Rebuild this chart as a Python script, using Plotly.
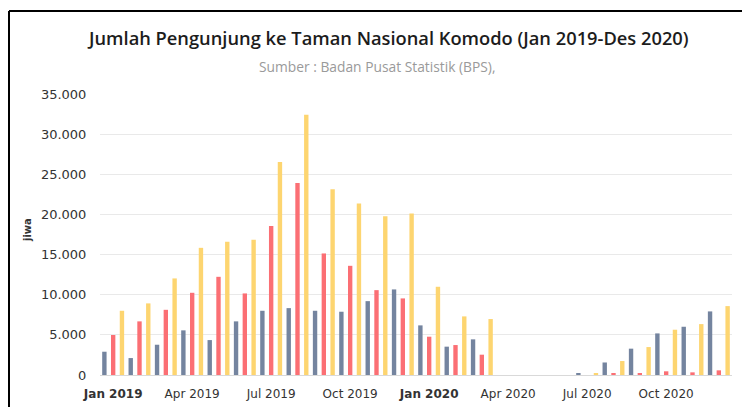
import plotly.graph_objects as go

months = ["Jan 2019", "Feb 2019", "Mar 2019", "Apr 2019", "May 2019", "Jun 2019",
          "Jul 2019", "Aug 2019", "Sep 2019", "Oct 2019", "Nov 2019", "Dec 2019",
          "Jan 2020", "Feb 2020", "Mar 2020", "Apr 2020", "May 2020", "Jun 2020",
          "Jul 2020", "Aug 2020", "Sep 2020", "Oct 2020", "Nov 2020", "Dec 2020"]

nusantara = [2900, 2110, 3770, 5560, 4350, 6680, 8000, 8330, 8000, 7880, 9200, 10660,
             6180, 3530, 4440, 0, 0, 0, 170, 1560, 3280, 5180, 6010, 7920]
mancanegara = [4980, 6680, 8120, 10240, 12230, 10160, 18570, 23920, 15140, 13600, 10570, 9540,
               4770, 3730, 2530, 0, 0, 0, 0, 180, 150, 460, 330, 580]
total = [8000, 8920, 12030, 15840, 16590, 16840, 26540, 32430, 23140, 21360, 19780, 20110,
         10990, 7300, 6970, 0, 0, 0, 170, 1740, 3480, 5640, 6340, 8580]

series_names = ["Wisatawan Nusantara", "Wisatawan Mancanegara", "Total"]
series_colors = ["#74849f", "#fb6f74", "#fdd570"]

tick_months = ["Jan 2019", "Apr 2019", "Jul 2019", "Oct 2019",
               "Jan 2020", "Apr 2020", "Jul 2020", "Oct 2020"]
tick_texts = ["<b>Jan 2019</b>", "Apr 2019", "Jul 2019", "Oct 2019",
              "<b>Jan 2020</b>", "Apr 2020", "Jul 2020", "Oct 2020"]

title_text = "Jumlah Pengunjung ke Taman Nasional Komodo (Jan 2019-Des 2020)"
subtitle_text = "Sumber : Badan Pusat Statistik (BPS),"

fig = go.Figure()
for name, vals, col in zip(series_names, [nusantara, mancanegara, total], series_colors):
    fig.add_trace(go.Bar(x=months, y=vals, name=name, marker_color=col,
                         marker_line_width=0))

# page body has an 8px margin, so the figure is drawn 8px smaller and
# all reference pixel positions are shifted by 8px
OFF = 8
W, H = 750 - OFF, 407 - OFF
L, T = 100 - OFF, 94 - OFF
R = W - (732 - OFF)
B = H - (375 - OFF)
pw, ph = W - L - R, H - T - B

def px_x(x):
    return (x - OFF - L) / pw

def px_y(y):
    return (H - B - (y - OFF)) / ph

fig.update_layout(
    width=W, height=H,
    margin=dict(l=L, r=R, t=T, b=B, autoexpand=False),
    paper_bgcolor="white", plot_bgcolor="white",
    barmode="group", bargap=0, bargroupgap=0.5,
    showlegend=False,
    separators=",.",
    font=dict(family="DejaVu Sans", color="#333333"),
    xaxis=dict(type="category", categoryorder="array", categoryarray=months,
               range=[-0.5, 23.5], automargin=False,
               tickmode="array", tickvals=tick_months, ticktext=tick_texts,
               tickfont=dict(size=12, color="#333333", family="DejaVu Sans"),
               showgrid=False, showline=True, linecolor="#d9d9d9", linewidth=1,
               ticks="outside", ticklen=8, tickcolor="rgba(0,0,0,0)"),
    yaxis=dict(range=[0, 35000], tickmode="linear", tick0=0, dtick=5000,
               tickformat=",d", automargin=False,
               tickfont=dict(size=13, color="#333333", family="DejaVu Sans"),
               showgrid=True, gridcolor="#e9e9e9", gridwidth=1,
               zeroline=False, showline=False,
               ticks="outside", ticklen=10, tickcolor="rgba(0,0,0,0)"),
)

fig.add_annotation(text=title_text, xref="paper", yref="paper",
                   x=px_x(388), y=px_y(37), xanchor="center", yanchor="middle",
                   showarrow=False,
                   font=dict(family="Open Sans", size=18.3, color="#1c1c1c", weight=600))
fig.add_annotation(text=subtitle_text, xref="paper", yref="paper",
                   x=px_x(377), y=px_y(67), xanchor="center", yanchor="middle",
                   showarrow=False,
                   font=dict(family="Open Sans", size=13.8, color="#9a9a9a"))
fig.add_annotation(text="<b>jiwa</b>", xref="paper", yref="paper",
                   x=px_x(27), y=px_y(230), xanchor="center", yanchor="middle",
                   textangle=-90, showarrow=False,
                   font=dict(family="DejaVu Sans", size=10, color="#333333"))

# frame lines of the original screenshot
fig.add_shape(type="line", xref="paper", yref="paper",
              x0=px_x(9), x1=px_x(9), y0=px_y(11), y1=px_y(420),
              line=dict(color="black", width=2))
fig.add_shape(type="line", xref="paper", yref="paper",
              x0=px_x(9), x1=px_x(760), y0=px_y(11), y1=px_y(11),
              line=dict(color="black", width=2))

fig.write_html("out.html")
